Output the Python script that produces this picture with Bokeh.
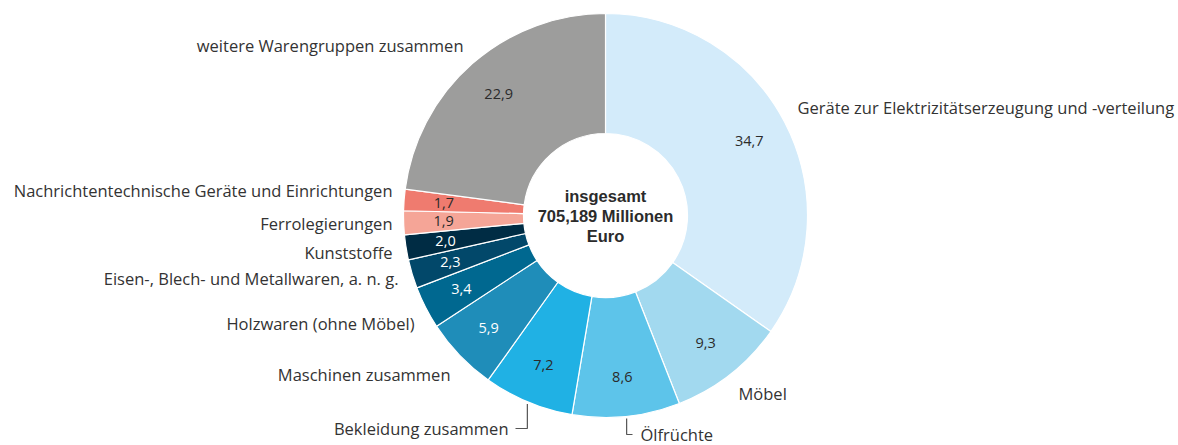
import numpy as np
from bokeh.plotting import figure
from bokeh.models import Range1d, ColumnDataSource
from bokeh.embed import file_html
from bokeh.resources import INLINE
from bokeh.core.properties import value

# ---------------- data ----------------
categories = [
    "Geräte zur Elektrizitätserzeugung und -verteilung",
    "Möbel",
    "Ölfrüchte",
    "Bekleidung zusammen",
    "Maschinen zusammen",
    "Holzwaren (ohne Möbel)",
    "Eisen-, Blech- und Metallwaren, a. n. g.",
    "Kunststoffe",
    "Ferrolegierungen",
    "Nachrichtentechnische Geräte und Einrichtungen",
    "weitere Warengruppen zusammen",
]
shares = [34.7, 9.3, 8.6, 7.2, 5.9, 3.4, 2.3, 2.0, 1.9, 1.7, 22.9]
value_labels = ["34,7", "9,3", "8,6", "7,2", "5,9", "3,4", "2,3", "2,0", "1,9", "1,7", "22,9"]
center_lines = ["insgesamt", "705,189 Millionen", "Euro"]

# ---------------- styles ----------------
colors = ["#d3ebfa", "#a2d9ef", "#5dc4ea", "#20b1e4", "#1f8db9", "#006890",
          "#02486a", "#002c44", "#f5a597", "#ef7b6f", "#9d9d9c"]
value_text_colors = ["#2b2b2b", "#2b2b2b", "#2b2b2b", "#2b2b2b", "#ffffff", "#ffffff",
                     "#ffffff", "#ffffff", "#2b2b2b", "#2b2b2b", "#2b2b2b"]
# outer label layout in screen pixels: (x anchor, y centre, align)
label_layout = [
    (797, 107, "left"),
    (738, 393, "left"),
    (640, 434, "left"),
    (508, 428, "right"),
    (450, 374, "right"),
    (414, 323, "right"),
    (398, 278, "right"),
    (392, 252, "right"),
    (392, 223, "right"),
    (392, 190, "right"),
    (463, 45, "right"),
]
leader_for = {"Bekleidung zusammen": -1, "Ölfrüchte": 1}

W, H = 1178, 445
def sx(px):
    return px
def sy(py):
    return H - py

CX, CY = sx(605), sy(215)
R_OUT, R_IN, R_LBL = 202, 82, 162

FONT = "Open Sans"

p = figure(width=W, height=H, output_backend="svg", toolbar_location=None,
           x_range=Range1d(0, W), y_range=Range1d(0, H), min_border=0,
           background_fill_color="white", border_fill_color="white")
p.axis.visible = False
p.grid.visible = False
p.outline_line_color = None

total = float(sum(shares))
cum = np.concatenate([[0.0], np.cumsum(shares)])
start = np.pi / 2 - 2 * np.pi * cum[:-1] / total
end = np.pi / 2 - 2 * np.pi * cum[1:] / total
mid = (start + end) / 2

src = ColumnDataSource(dict(start=start, end=end, color=colors))
p.annular_wedge(x=CX, y=CY, inner_radius=R_IN, outer_radius=R_OUT,
                start_angle="start", end_angle="end", direction="clock",
                fill_color="color", line_color="white", line_width=1.2, source=src)

# value labels
vsrc = ColumnDataSource(dict(x=CX + R_LBL * np.cos(mid), y=CY + R_LBL * np.sin(mid),
                             t=value_labels, c=value_text_colors))
p.text(x="x", y="y", text="t", text_color="c", source=vsrc,
       text_align="center", text_baseline="middle",
       text_font=value(FONT), text_font_size="14.5px")

# centre text
for i, line in enumerate(center_lines):
    p.text(x=[CX], y=[CY + 20 - 20 * i], text=[line], text_align="center",
           text_baseline="middle", text_font=value("Liberation Sans"),
           text_font_style="bold", text_font_size="16.5px", text_color="#2b2b2b")

# outer labels
for k, (name, (lx, ly, al)) in enumerate(zip(categories, label_layout)):
    p.text(x=[sx(lx)], y=[sy(ly)], text=[name], text_align=al,
           text_baseline="middle", text_font=value(FONT),
           text_font_size="16.5px", text_color="#333333")
    if name in leader_for:
        d = leader_for[name]
        x0 = CX + (R_OUT + 2) * np.cos(mid[k])
        y0 = CY + (R_OUT + 2) * np.sin(mid[k])
        if d < 0:
            xs = [x0, x0, sx(lx) + 7]
        else:
            xs = [x0, x0, sx(lx) - 8]
        ys = [y0, sy(ly), sy(ly)]
        p.line(x=xs, y=ys, line_color="#555555", line_width=1.2)

open("out.html", "w").write(file_html(p, INLINE))
